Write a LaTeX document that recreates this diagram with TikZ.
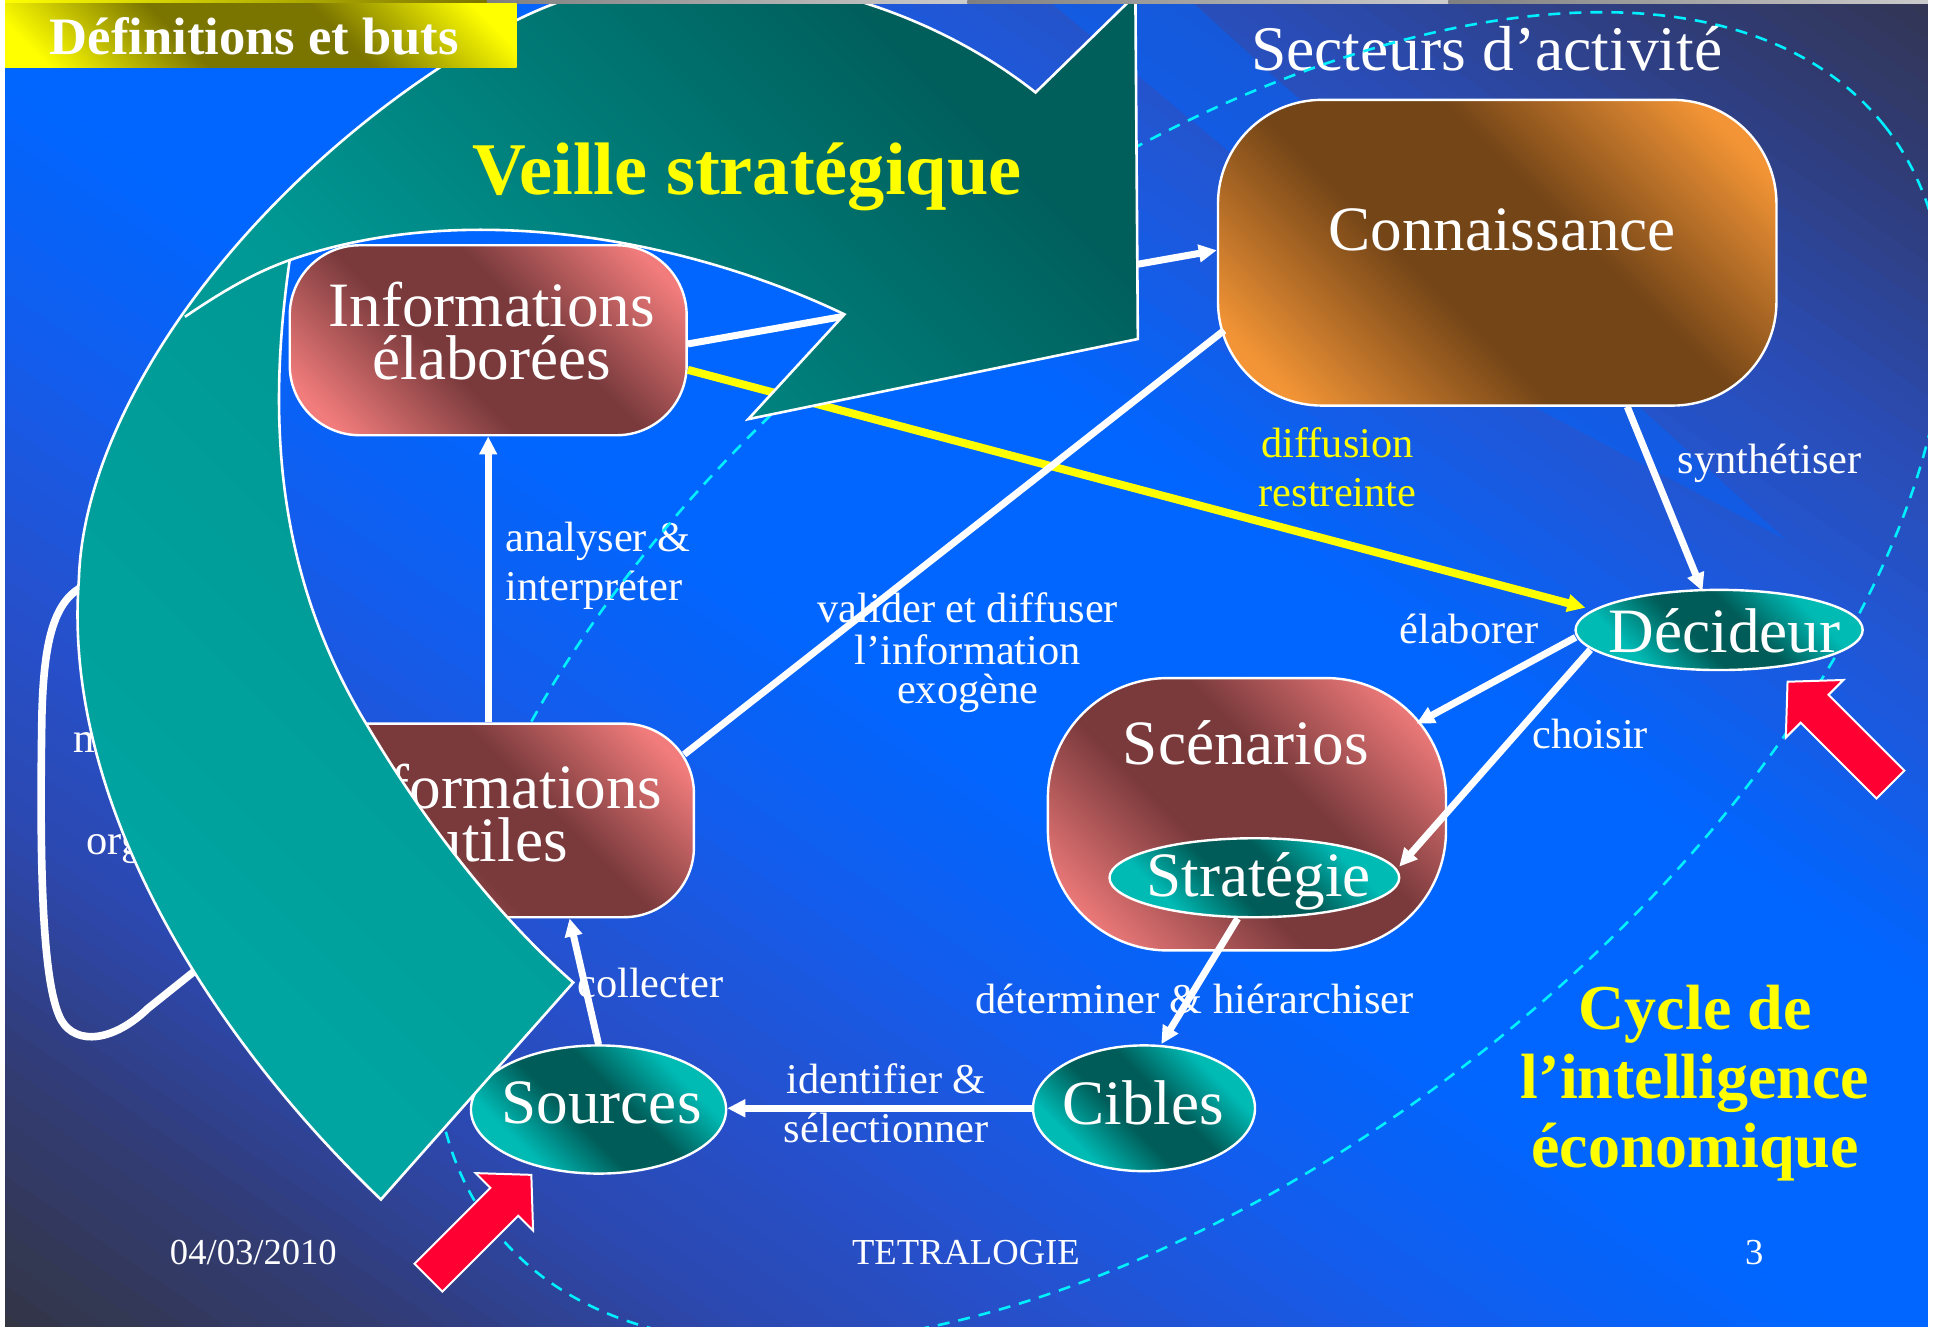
\documentclass[tikz,border=0pt]{standalone}
\usepackage{fontspec}
\setmainfont{Liberation Serif}
\usetikzlibrary{arrows.meta,shapes.geometric,calc}

% background ramp, from the lower-left corner to the upper-right corner
\definecolor{bg1}{HTML}{343438}
\definecolor{bg2}{HTML}{323C74}
\definecolor{bg3}{HTML}{2C48B0}
\definecolor{bg4}{HTML}{2650CC}
\definecolor{bg5}{HTML}{135DEC}
\definecolor{bg6}{HTML}{0066FF}
\definecolor{bg7}{HTML}{0066FF}
\definecolor{bg8}{HTML}{1E58DC}
\definecolor{bg9}{HTML}{2A4CB4}
\definecolor{bg10}{HTML}{303C78}
\definecolor{bg11}{HTML}{343446}
% fills
\definecolor{pinkL}{HTML}{F27C7C}
\definecolor{pinkD}{HTML}{7A3A3C}
\definecolor{orL}{HTML}{F39536}
\definecolor{orD}{HTML}{744517}
\definecolor{tlL}{HTML}{00BAB4}
\definecolor{tlD}{HTML}{005C58}
\definecolor{arL}{HTML}{00A5A1}
\definecolor{arM}{HTML}{009894}
\definecolor{arD}{HTML}{005E5B}
\definecolor{redA}{HTML}{FF0033}
\definecolor{ylw}{HTML}{FFFF00}
\definecolor{olv}{HTML}{7A7400}
\definecolor{dashc}{HTML}{00F0FF}

% diagonal fills: light in two opposite corners, dark along the other diagonal
\pgfdeclareverticalshading{pinkdiag}{100bp}{color(0bp)=(pinkL); color(21bp)=(pinkL);
  color(42bp)=(pinkD); color(58bp)=(pinkD); color(79bp)=(pinkL); color(100bp)=(pinkL)}
\pgfdeclareverticalshading{ordiag}{100bp}{color(0bp)=(orL); color(21bp)=(orL);
  color(42bp)=(orD); color(58bp)=(orD); color(79bp)=(orL); color(100bp)=(orL)}
\pgfdeclareverticalshading{yldiag}{100bp}{color(0bp)=(ylw); color(20bp)=(ylw);
  color(40bp)=(olv); color(60bp)=(olv); color(80bp)=(ylw); color(100bp)=(ylw)}
\pgfdeclareverticalshading{tldiag}{100bp}{color(0bp)=(tlL); color(29bp)=(tlL);
  color(44bp)=(tlD); color(56bp)=(tlD); color(71bp)=(tlL); color(100bp)=(tlL)}

\begin{document}
\begin{tikzpicture}[x=0.6165pt,y=-0.6165pt,
  conn/.style={draw=white, line width=3.5pt},
  yconn/.style={draw=ylw, line width=4pt},
  tip/.style={-{Triangle[length=9pt,width=8.5pt]}},
  bigtxt/.style={text=white, font=\fontsize{31.6}{26.5}\selectfont, inner sep=0pt, anchor=base, align=center},
  lbl/.style={text=white, font=\fontsize{21.2}{24}\selectfont, inner sep=0pt, anchor=base},
  foot/.style={text=white, font=\fontsize{18.3}{20}\selectfont, inner sep=0pt, anchor=base},
  ylbl/.style={text=ylw, font=\bfseries\fontsize{32}{34}\selectfont, inner sep=0pt, anchor=base},
  pinkbox/.style={rectangle, draw=white, line width=1.2pt, shade, shading=pinkdiag, shading angle=-45},
  orbox/.style={rectangle, draw=white, line width=1.2pt, shade, shading=ordiag, shading angle=-45},
  tlell/.style={ellipse, draw=white, line width=1.2pt, inner sep=0pt, shade, shading=tldiag, shading angle=-45},
  tealarrow/.style={draw=white, line width=1.3pt, bottom color=arL, top color=arD, middle color=arM, shading angle=-45},
  redarr/.style={fill=redA, draw=white, line width=1pt, line join=miter},
]
\useasboundingbox (0,0) rectangle (1568,1076.4);
\begin{scope}
\clip (0,0) rectangle (1568,1076.4);

% ---- diagonal background ramp, built from thin bands parallel to the main diagonal
\foreach \sa/\sb/\ca/\cb in {-1.05/-0.80/bg1/bg2, -0.80/-0.62/bg2/bg3, -0.62/-0.45/bg3/bg4,
    -0.45/-0.25/bg4/bg5, -0.25/-0.05/bg5/bg6, -0.05/0.25/bg6/bg7, 0.25/0.45/bg7/bg8,
    0.45/0.65/bg8/bg9, 0.65/0.85/bg9/bg10, 0.85/1.05/bg10/bg11}{
  \foreach \j in {0,...,11}{
    \pgfmathsetmacro\pc{100*(\j+0.5)/12}
    \pgfmathsetmacro\da{887*(\sa+(\sb-\sa)*\j/12)}
    \pgfmathsetmacro\db{887*(\sa+(\sb-\sa)*(\j+1.4)/12)}
    \fill[color=\cb!\pc!\ca]
      ({-300*0.8245+\da*0.5658},{-300*0.5658-\da*0.8245}) --
      ({2300*0.8245+\da*0.5658},{2300*0.5658-\da*0.8245}) --
      ({2300*0.8245+\db*0.5658},{2300*0.5658-\db*0.8245}) --
      ({-300*0.8245+\db*0.5658},{-300*0.5658-\db*0.8245}) -- cycle;
  }
}
% light streak running down towards the decision maker
\fill[bg6, opacity=0.45] (850,0) -- (965,0) -- (1449,438) -- (1244,330) -- cycle;

% ---- connector labels
\node[lbl, anchor=base west] (lAna1) at (410,447) {analyser \&};
\node[lbl, anchor=base west] (lAna2) at (410,487) {interpréter};
\node[lbl] (lVal1) at (785,505) {valider et diffuser};
\node[lbl] (lVal2) at (785,539) {l’information};
\node[lbl] (lVal3) at (785,571) {exogène};
\node[lbl, text=ylw] (lDif1) at (1085,371) {diffusion};
\node[lbl, text=ylw] (lDif2) at (1085,411) {restreinte};
\node[lbl] (lSyn) at (1435.5,384) {synthétiser};
\node[lbl] (lEla) at (1191.5,522) {élaborer};
\node[lbl] (lCho) at (1290,607) {choisir};
\node[lbl] (lDet) at (969,822) {déterminer \& hiérarchiser};
\node[lbl] (lIde1) at (719,887) {identifier \&};
\node[lbl] (lIde2) at (719,927) {sélectionner};
\node[lbl] (lCol) at (527.5,809) {collecter};
\node[lbl, anchor=base west] (lMem) at (59,610) {m};
\node[lbl, anchor=base west] (lOrg) at (70,693) {org};
\node[text=white, font=\fontsize{31.8}{34}\selectfont, inner sep=0pt, anchor=base] (lSect) at (1206,57) {Secteurs d’activité};

% ---- footer
\node[foot] (fDate) at (205.5,1026) {04/03/2010};
\node[foot] (fTitle) at (783.5,1026) {TETRALOGIE};
\node[foot] (fPage) at (1423,1026) {3};

% ---- dashed boundary of the business sectors
\draw[dashc, line width=1.3pt, dash pattern=on 6pt off 4.5pt]
  [rotate around={38.5:(965,550)}] (965,550) ellipse [x radius=720, y radius=385];

% ---- title of the cycle
\node[ylbl] (cyc1) at (1375,835) {Cycle de};
\node[ylbl] (cyc2) at (1375,891) {l’intelligence};
\node[ylbl] (cyc3) at (1375,947) {économique};

% ---- nodes of the cycle
\node[pinkbox, rounded corners=35pt, minimum width=199pt, minimum height=96.8pt] (infoU) at (401.5,665.5) {};
\node[pinkbox, rounded corners=35pt, minimum width=198.5pt, minimum height=95pt] (infoE) at (396,276) {};
\node[orbox, rounded corners=52pt, minimum width=279.3pt, minimum height=152.9pt] (conn) at (1214.5,205) {};
\node[pinkbox, rounded corners=60pt, minimum width=199.1pt, minimum height=136.2pt] (scen) at (1011.5,660.5) {};
\node[tlell, minimum width=144.9pt, minimum height=39.5pt] (strat) at (1017.5,712) {};
\node[tlell, minimum width=143.6pt, minimum height=40.1pt] (dec) at (1394.5,511) {};
\node[tlell, minimum width=127.6pt, minimum height=64.1pt] (src) at (485.5,900) {};
\node[tlell, minimum width=111pt, minimum height=62.9pt] (cib) at (928,899) {};

% two-line texts: the base anchor sits on the last line
\node[bigtxt] (tInfoU) at (405,699) {Informations\\utiles};
\node[bigtxt] (tInfoE) at (399,308) {Informations\\élaborées};
\node[bigtxt] (tConn) at (1218.5,203) {Connaissance};
\node[bigtxt] (tScen) at (1010.5,620) {Scénarios};
\node[bigtxt] (tStrat) at (1021,727) {Stratégie};
\node[bigtxt] (tDec) at (1399,529) {Décideur};
\node[bigtxt] (tSrc) at (488,911) {Sources};
\node[bigtxt] (tCib) at (927.5,912) {Cibles};

% ---- connectors
\draw[conn,tip] (infoU.north -| infoE.south) -- (infoE.south);
\draw[conn,tip] ($(infoE.east)+(0,3)$) -- ($(conn.west)+(0,-2)$);
\draw[yconn,tip] ($(infoE.east)+(0,24)$) -- ($(dec.center)+(-108.5,-18)$);
\draw[conn] ($(infoU.center)+(153.5,-53.5)$) -- ($(conn.center)+(-221.5,63)$);
\draw[conn,tip] ($(conn.south)+(105.5,0)$) -- ($(dec.north)+(-13.5,2)$);
\draw[conn,tip] ($(dec.west)+(1,6)$) -- ($(scen.center)+(137.5,-73.5)$);
\draw[conn,tip] ($(dec.center)+(-104.5,16)$) -- ($(strat.east)+(-1,-9)$);
\draw[conn,tip] ($(strat.south)+(-13.5,0)$) -- ($(cib.north)+(14,0)$);
\draw[conn,tip] (cib.west) -- (cib.west -| src.east);
\draw[conn,tip] (src.north) -- ($(infoU.south)+(60.5,0)$);

% ---- memory loop on the left
\draw[white, line width=3.8pt, line cap=round]
  (95,470) .. controls (50,470) and (36,500) .. (34,580)
  .. controls (32,700) and (34,800) .. (50,828)
  .. controls (62,848) and (92,845) .. (120,818) -- (180,770);

% ---- big curved arrow of the strategic watch
\path[tealarrow] (309,973) .. controls (170,840) and (50,650) .. (64,470)
  .. controls (68,330) and (200,150) .. (380,40)
  .. controls (520,-60) and (720,-20) .. (840,75)
  -- (921,-4) -- (923,275) -- (607,340) -- (685,255)
  .. controls (560,195) and (380,160) .. (235,211)
  .. controls (218,330) and (220,460) .. (297,587)
  .. controls (340,660) and (400,740) .. (465,797)
  -- cycle;
\draw[white, line width=1.3pt] (235,211) .. controls (205,221.5) and (178,238) .. (150,257);
\node[text=ylw, font=\bfseries\fontsize{37.2}{40}\selectfont, inner sep=0pt, anchor=base west] (tVeille) at (383,158) {Veille stratégique};

% ---- red pointers
\begin{scope}[shift={(431,953)}, rotate=45]
  \draw[redarr] (0,0) -- (-31,-33) -- (-31,-16) -- (-118,-16) -- (-118,16) -- (-31,16) -- (-31,33) -- cycle;
\end{scope}
\begin{scope}[shift={(1450,553)}, rotate=135]
  \draw[redarr] (0,0) -- (-31,-33) -- (-31,-16) -- (-118,-16) -- (-118,16) -- (-31,16) -- (-31,33) -- cycle;
\end{scope}

% ---- slide header
\shade[left color=ylw, right color=olv] (4,0) rectangle (395,3);
\shade[left color=black!50, right color=black!20] (395,0) rectangle (785,3);
\shade[left color=black!50, right color=black!20] (785,0) rectangle (1175,3);
\shade[left color=black!50, right color=black!20] (1175,0) rectangle (1568,3);
\shade[shading=yldiag, shading angle=-45] (4,3) rectangle (419,55);
\node[text=white, font=\bfseries\fontsize{26.3}{30}\selectfont, inner sep=0pt, anchor=base west] (tHead) at (40,44) {Définitions et buts};
\fill[white] (0,0) rectangle (4,1076.4);
\fill[white] (1564,0) rectangle (1568,1076.4);
\end{scope}
\end{tikzpicture}
\end{document}
